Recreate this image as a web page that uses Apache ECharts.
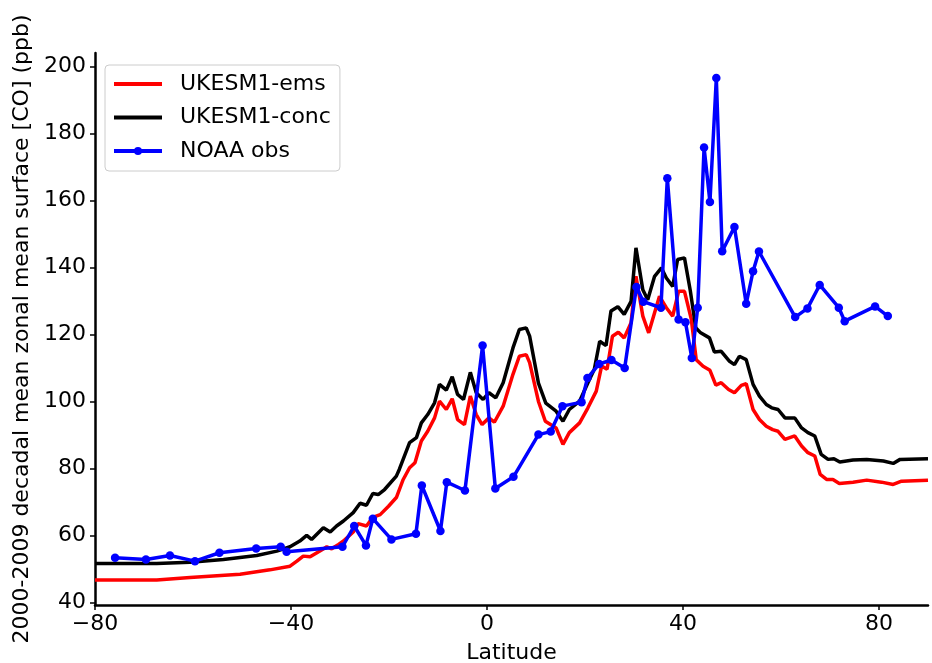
<!DOCTYPE html>
<html>
<head>
<meta charset="utf-8">
<script src="https://cdn.jsdelivr.net/npm/echarts@6/dist/echarts.min.js"></script>
<style>
html,body{margin:0;padding:0;background:#fff;}
#chart{width:932px;height:663px;}
</style>
</head>
<body>
<div id="chart"></div>
<script>
// ---- data ----
const xTicks = [-80, -40, 0, 40, 80];
const yTicks = [40, 60, 80, 100, 120, 140, 160, 180, 200];

const emsLat = [-80, -67.4, -60.6, -50.4, -44.3, -40.2, -38.8, -37.5, -36.1, -34.1, -32.7, -31.7, -30.3, -29.3, -27.3, -26.3, -24.6, -23.3, -21.8, -20.1, -18.5, -17.1, -15.8, -14.7, -13.4, -12.1, -10.7, -9.7, -8.3, -7.1, -6.0, -4.6, -3.4, -2.2, -1.0, 0.4, 1.5, 3.3, 5.3, 6.6, 8.0, 8.7, 10.5, 11.9, 14.1, 15.5, 16.8, 18.9, 20.6, 22.3, 23.4, 24.5, 25.6, 26.8, 28.0, 29.4, 30.4, 31.8, 33.0, 34.2, 35.2, 36.6, 37.9, 39.1, 40.3, 41.7, 42.7, 44.1, 45.5, 46.7, 47.8, 49.3, 50.5, 51.9, 52.9, 54.3, 55.6, 57.0, 58.3, 59.4, 60.8, 62.8, 64.2, 65.5, 66.9, 68.0, 69.3, 70.6, 71.9, 74.7, 77.5, 80.5, 82.9, 84.6, 90];
const emsVal = [46.7, 46.7, 47.4, 48.4, 49.7, 50.8, 52.3, 53.8, 53.6, 55.3, 56.6, 56.0, 57.3, 58.3, 61.0, 63.5, 62.8, 65.4, 66.2, 68.7, 71.3, 76.7, 80.2, 81.7, 88.2, 91.1, 95.1, 100.1, 97.6, 100.8, 94.6, 93.1, 101.6, 96.1, 93.1, 95.1, 93.8, 98.6, 108.1, 113.5, 114.0, 111.6, 100.0, 94.1, 92.1, 87.2, 90.7, 93.6, 98.1, 103.1, 110.6, 109.6, 119.5, 120.7, 119.0, 123.5, 137.4, 125.5, 120.5, 126.5, 131.4, 128.0, 125.5, 132.9, 132.9, 124.5, 112.5, 110.5, 109.3, 104.9, 105.6, 103.6, 102.6, 104.8, 105.3, 97.6, 94.6, 92.6, 91.6, 91.1, 88.7, 89.7, 86.7, 84.7, 83.7, 78.2, 76.7, 76.7, 75.5, 75.9, 76.5, 75.9, 75.2, 76.2, 76.5];

const concLat = [-80, -67.4, -60.6, -53.8, -47.0, -42.9, -40.2, -38.2, -36.8, -35.8, -33.4, -32.0, -30.7, -29.3, -27.3, -25.9, -24.6, -23.3, -22.2, -20.9, -18.5, -17.9, -15.8, -14.4, -13.4, -12.1, -10.7, -9.7, -8.3, -7.1, -6.0, -4.8, -3.4, -2.2, -0.8, 0.4, 1.8, 3.3, 5.3, 6.6, 8.0, 8.7, 10.5, 12.0, 14.1, 15.5, 16.8, 18.9, 20.6, 21.9, 23.0, 24.3, 25.3, 26.7, 28.0, 29.4, 30.4, 31.8, 32.8, 34.2, 35.6, 36.6, 37.9, 38.9, 40.3, 41.5, 42.6, 43.6, 45.4, 46.4, 47.8, 49.5, 50.5, 51.5, 52.9, 54.3, 55.6, 57.0, 58.1, 59.4, 60.8, 62.8, 64.2, 65.5, 66.9, 68.2, 69.6, 70.8, 72.0, 74.7, 77.5, 80.9, 82.9, 84.3, 90];
const concVal = [51.6, 51.6, 52.0, 52.8, 54.0, 55.3, 56.6, 58.3, 60.0, 58.8, 62.3, 61.0, 62.8, 64.3, 66.8, 69.6, 69.0, 72.5, 72.2, 73.7, 77.7, 79.7, 87.7, 89.2, 93.6, 96.1, 99.6, 105.1, 103.4, 107.4, 102.1, 100.6, 108.7, 102.6, 100.6, 102.6, 101.1, 105.6, 116.0, 121.5, 122.0, 119.5, 105.5, 99.5, 97.1, 94.1, 97.6, 100.1, 105.6, 109.6, 118.0, 116.7, 127.0, 128.3, 126.0, 129.9, 145.9, 133.4, 130.4, 137.4, 139.9, 136.9, 134.4, 142.4, 142.9, 133.0, 122.0, 120.5, 119.0, 114.8, 115.0, 112.0, 111.0, 113.5, 112.5, 105.1, 101.6, 99.1, 98.1, 97.6, 95.1, 95.1, 92.1, 90.7, 89.7, 84.2, 82.7, 82.9, 81.9, 82.5, 82.7, 82.2, 81.5, 82.7, 82.9];

const obsLat = [-75.9, -69.6, -64.7, -59.6, -54.6, -47.1, -42.1, -40.9, -29.5, -27.1, -24.7, -23.3, -19.5, -14.5, -13.3, -9.5, -8.2, -4.5, -0.9, 1.7, 5.4, 10.5, 13.0, 15.4, 19.3, 20.5, 22.9, 25.4, 28.1, 30.5, 31.9, 35.5, 36.8, 39.1, 40.5, 41.8, 43.0, 44.3, 45.5, 46.8, 48.0, 50.5, 52.9, 54.3, 55.5, 62.9, 65.4, 67.9, 71.8, 73.0, 79.2, 81.8];
const obsVal = [53.3, 52.8, 54.0, 52.3, 54.8, 56.1, 56.6, 55.1, 56.6, 62.8, 57.0, 65.0, 58.8, 60.5, 74.9, 61.3, 75.9, 73.4, 116.7, 74.0, 77.5, 90.1, 91.0, 98.6, 99.8, 107.0, 111.2, 112.4, 110.0, 134.2, 129.8, 128.0, 166.7, 124.5, 123.7, 113.0, 128.0, 175.9, 159.6, 196.6, 144.9, 152.1, 129.2, 138.9, 144.8, 125.2, 127.8, 134.8, 128.0, 124.0, 128.4, 125.5];

const seriesNames = ['UKESM1-ems', 'UKESM1-conc', 'NOAA obs'];

// ---- build ----
const pairs = (xs, ys) => xs.map((x, i) => [x, ys[i]]);
const FONT = 'DejaVu Sans';
const FS = 22;
const minus = v => String(v).replace('-', '\u2212');
const barIcon = 'path://M0,0 L48,0 L48,4 L0,4 Z';

const chart = echarts.init(document.getElementById('chart'), null, {renderer: 'canvas'});
chart.setOption({
  animation: false,
  backgroundColor: '#ffffff',
  textStyle: {fontFamily: FONT},
  grid: {left: 95, right: 4, top: 53, bottom: 58, containLabel: false, outerBoundsMode: 'none'},
  legend: {
    orient: 'vertical',
    left: 105, top: 65,
    padding: [8, 9, 9, 7],
    itemWidth: 48, itemHeight: 10, itemGap: 11.5,
    borderColor: '#cccccc', borderWidth: 1, borderRadius: 4,
    backgroundColor: 'rgba(255,255,255,0.8)',
    lineStyle: {width: 4},
    textStyle: {fontFamily: FONT, fontSize: FS, color: '#000', lineHeight: 22, padding: [0, 0, 0, 13]},
    data: [
      {name: seriesNames[0], icon: barIcon},
      {name: seriesNames[1], icon: barIcon},
      {name: seriesNames[2]}
    ]
  },
  xAxis: {
    type: 'value', min: -80, max: 90,
    name: 'Latitude', nameLocation: 'middle', nameGap: 37,
    nameTextStyle: {fontFamily: FONT, fontSize: FS, color: '#000'},
    axisLine: {show: true, onZero: false, lineStyle: {color: '#000', width: 2.5}},
    axisTick: {show: true, length: 5, lineStyle: {color: '#000', width: 1.5}, customValues: xTicks},
    axisLabel: {fontFamily: FONT, fontSize: FS, color: '#000', margin: 8, customValues: xTicks, formatter: minus},
    splitLine: {show: false}
  },
  yAxis: {
    type: 'value', min: 39.2, max: 204.1,
    name: '2000-2009 decadal mean zonal mean surface [CO] (ppb)',
    nameLocation: 'middle', nameGap: 62, nameRotate: 90,
    nameTextStyle: {fontFamily: FONT, fontSize: FS, color: '#000'},
    axisLine: {show: true, onZero: false, lineStyle: {color: '#000', width: 2.5}},
    axisTick: {show: true, length: 5, lineStyle: {color: '#000', width: 1.5}, customValues: yTicks},
    axisLabel: {fontFamily: FONT, fontSize: FS, color: '#000', margin: 9, customValues: yTicks, formatter: minus},
    splitLine: {show: false}
  },
  series: [
    {name: seriesNames[0], type: 'line', data: pairs(emsLat, emsVal), showSymbol: false, symbol: 'none',
     lineStyle: {color: '#ff0000', width: 3.5}, itemStyle: {color: '#ff0000'}, z: 2},
    {name: seriesNames[1], type: 'line', data: pairs(concLat, concVal), showSymbol: false, symbol: 'none',
     lineStyle: {color: '#000000', width: 3.5}, itemStyle: {color: '#000000'}, z: 3},
    {name: seriesNames[2], type: 'line', data: pairs(obsLat, obsVal), symbol: 'circle', symbolSize: 8.5,
     lineStyle: {color: '#0000ff', width: 3.5}, itemStyle: {color: '#0000ff'}, z: 4}
  ]
});
</script>
</body>
</html>
